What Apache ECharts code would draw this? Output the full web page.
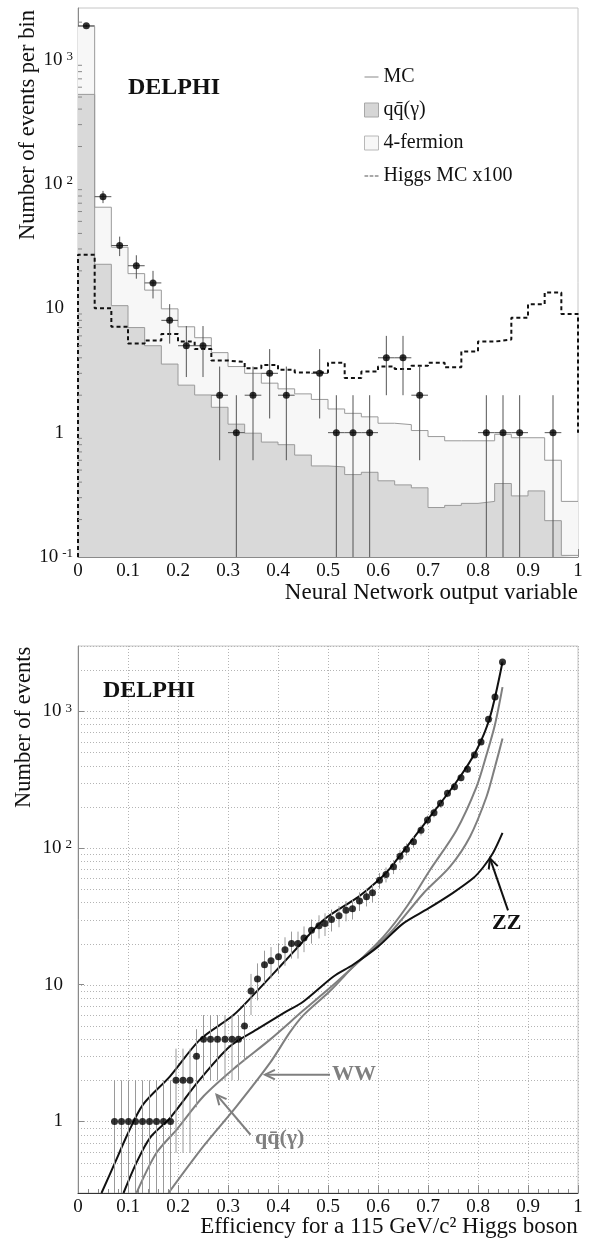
<!DOCTYPE html>
<html>
<head>
<meta charset="utf-8">
<script src="https://cdn.jsdelivr.net/npm/echarts@6/dist/echarts.min.js"></script>
<style>
  html, body { margin: 0; padding: 0; background: #ffffff; }
  #chart { width: 589px; height: 1243px; }
</style>
</head>
<body>
<div id="chart"></div>
<script>
// ================= TOP PANEL: NN output distribution (30 bins, width 1/30) =================
const nnBinCount = 30;
const nnTickLabels = ['0', '0.1', '0.2', '0.3', '0.4', '0.5', '0.6', '0.7', '0.8', '0.9', '1'];
// total MC (qq(gamma) + 4-fermion), events per bin
const mcTotal = [1850, 65, 31, 19, 14, 9.9, 7.1, 5.8, 4.4, 3.4, 3.0, 2.5, 2.25, 2.05, 1.85,
                 1.55, 1.43, 1.34, 1.19, 1.16, 1.04, 0.93, 0.86, 0.86, 0.86, 0.97, 0.91, 0.91, 0.60, 0.28];
// qq(gamma) MC component
const qqbarMC = [525, 22.6, 10.5, 7.0, 5.0, 3.56, 2.41, 2.01, 1.60, 1.17, 0.99, 0.84, 0.80, 0.66, 0.54,
                 0.53, 0.46, 0.48, 0.41, 0.38, 0.36, 0.25, 0.26, 0.27, 0.28, 0.39, 0.31, 0.34, 0.196, 0.103];
// Higgs MC x100
const higgsX100 = [27, 10, 7.1, 5.2, 5.5, 6.2, 5.4, 4.7, 3.8, 3.7, 3.3, 3.5, 3.2, 3.05, 3.05,
                   3.65, 2.75, 3.1, 3.4, 3.25, 3.45, 3.65, 3.35, 4.5, 5.4, 5.6, 8.4, 10.8, 13.4, 9.0];
const higgsRightEdgeEnd = 1;     // where the dashed outline stops on the right edge
// real data: counts and error bar half-lengths
const dataCounts = [1870, 79, 32, 22, 16, 8, 5, 5, 2, 1, 2, 3, 2, 0, 3,
                    1, 1, 1, 4, 4, 2, 0, 0, 0, 1, 1, 1, 0, 1, 0];
const dataErr = [43, 8.9, 5.7, 4.7, 4, 2.8, 2.2, 2.2, 1.4, 1, 1.4, 1.7, 1.4, 0, 1.7,
                 1, 1, 1, 2, 2, 1.4, 0, 0, 0, 1, 1, 1, 0, 1, 0];
const topYMin = 0.1, topYMax = 2600;
const topYTicks = [0.1, 1, 10, 100, 1000];

// ================= BOTTOM PANEL: events vs efficiency =================
const effData = [0.073, 0.087, 0.101, 0.115, 0.129, 0.143, 0.157, 0.171, 0.185,
                 0.196, 0.210, 0.224, 0.237,
                 0.251, 0.265, 0.279, 0.294, 0.308, 0.321, 0.333,
                 0.346, 0.359, 0.373, 0.386, 0.401, 0.414, 0.427, 0.440, 0.452, 0.467,
                 0.482, 0.494, 0.507, 0.522, 0.536, 0.549, 0.563, 0.577, 0.589, 0.603,
                 0.616, 0.631, 0.644, 0.657, 0.671, 0.686, 0.699, 0.712, 0.725, 0.739,
                 0.753, 0.766, 0.779, 0.793, 0.806, 0.821, 0.834, 0.849];
const evtData = [1, 1, 1, 1, 1, 1, 1, 1, 1,
                 2, 2, 2, 3,
                 4, 4, 4, 4, 4, 4, 5,
                 9, 11, 14, 15, 16, 18, 20, 20, 22, 25,
                 27, 28, 30, 32, 35, 36, 41, 44, 47, 58,
                 64, 73, 87, 98, 111, 135, 160, 181, 212, 251,
                 280, 326, 377, 478, 597, 874, 1271, 2290];
const evtErr = [1, 1, 1, 1, 1, 1, 1, 1, 1,
                1.41, 1.41, 1.41, 1.73,
                2, 2, 2, 2, 2, 2, 2.24,
                3, 3.32, 3.74, 3.87, 4, 4.24, 4.47, 4.47, 4.69, 5,
                5.2, 5.29, 5.48, 5.66, 5.92, 6, 6.4, 6.63, 6.86, 7.6,
                8, 8.54, 9.33, 9.9, 10.5, 11.6, 12.6, 13.5, 14.6, 15.8,
                16.7, 18.1, 19.4, 21.9, 24.4, 29.6, 35.7, 47.9];
// total MC
const mcEff = [0.047, 0.074, 0.100, 0.130, 0.184, 0.244, 0.311, 0.357, 0.404, 0.444, 0.491, 0.557, 0.580, 0.603, 0.624, 0.691, 0.757, 0.797, 0.824, 0.849];
const mcEvt = [0.3, 0.5, 0.82, 1.33, 2.14, 3.97, 6.0, 8.9, 13.6, 19.6, 29.8, 43, 50, 59, 71, 147, 305, 519, 908, 2290];
// ZZ
const zzEff = [0.091, 0.117, 0.144, 0.184, 0.241, 0.304, 0.357, 0.411, 0.451, 0.511, 0.55, 0.60, 0.65, 0.70, 0.75, 0.79, 0.81, 0.83, 0.849];
const zzEvt = [0.3, 0.5, 0.76, 1.06, 1.97, 3.55, 4.7, 6.2, 7.55, 11.5, 14, 19, 28, 36, 47, 60, 72, 92, 129];
// WW
const wwEff = [0.181, 0.251, 0.317, 0.384, 0.424, 0.451, 0.504, 0.55, 0.611, 0.657, 0.704, 0.757, 0.797, 0.817, 0.834, 0.849];
const wwEvt = [0.3, 0.66, 1.29, 2.68, 4.5, 6.0, 9.0, 13.5, 22.5, 37, 69, 135, 280, 480, 800, 1500];
// qq(gamma)
const qqEff = [0.117, 0.157, 0.197, 0.251, 0.317, 0.384, 0.451, 0.504, 0.55, 0.624, 0.691, 0.744, 0.784, 0.817, 0.834, 0.849];
const qqEvt = [0.3, 0.59, 0.87, 1.53, 2.53, 3.97, 6.5, 9.5, 13.5, 23.9, 46.7, 73, 121, 237, 392, 631];
const botYMin = 0.3, botYMax = 3000;
const botYTicks = [1, 10, 100, 1000];
// annotations: arrow [tailX, tailY, headX, headY], label and label anchor
const annotArrows = [[0.860, 35, 0.824, 84], [0.504, 2.2, 0.374, 2.2], [0.345, 0.80, 0.277, 1.57]];
const annotLabels = ['ZZ', 'WW', 'qq\u0304(\u03b3)'];
const annotLabelPos = [[0.828, 27.9], [0.508, 2.2], [0.354, 0.75]];
const annotColors = ['#111111', '#7f7f7f', '#7f7f7f'];

// ================= helpers =================
const F = 'Liberation Serif';
const LBL = '#111111';

function decadeSteps(lo, hi) {           // 1..9 x 10^k grid/tick values inside [lo, hi]
  const out = [];
  for (let e = Math.floor(Math.log10(lo)); e <= Math.ceil(Math.log10(hi)); e++) {
    for (let m = 1; m <= 9; m++) {
      const v = +(m * Math.pow(10, e)).toPrecision(6);
      if (v >= lo * 0.9999 && v <= hi * 1.0001) out.push(v);
    }
  }
  return out;
}
function stepLine(vals) {
  const pts = vals.map((v, i) => [i / nnBinCount, v]);
  pts.push([1, vals[vals.length - 1]]);
  return pts;
}
function powLabel(v) {
  const lg = Math.log10(v), e = Math.round(lg);
  if (Math.abs(lg - e) > 1e-6) return '';
  if (e === 0) return '{b|1}{sp| }';
  if (e === 1) return '{b|10}{sp| }';
  return '{b|10}{s|' + e + '}';
}
const yRich = {
  b: { fontFamily: F, fontSize: 19, color: LBL },
  s: { fontFamily: F, fontSize: 13, color: LBL, verticalAlign: 'top', padding: [0, 0, 0, 4] },
  sp: { fontFamily: F, fontSize: 13, width: 9 }
};
function errRender(halfW, yMin, color) {
  return function (params, api) {
    const x = api.value(0), n = api.value(1), e = api.value(2);
    const top = api.coord([x, n + e]);
    const bot = api.coord([x, Math.max(n - e, yMin)]);
    const children = [{ type: 'line', shape: { x1: top[0], y1: top[1], x2: bot[0], y2: bot[1] },
                        style: { stroke: color, lineWidth: 1 } }];
    if (halfW > 0) {
      const l = api.coord([x - halfW, n]), r = api.coord([x + halfW, n]);
      children.push({ type: 'line', shape: { x1: l[0], y1: l[1], x2: r[0], y2: r[1] },
                      style: { stroke: color, lineWidth: 1 } });
    }
    return { type: 'group', children };
  };
}

const higgsLine = [[0, topYMin]].concat(stepLine(higgsX100)).concat([[1, higgsRightEdgeEnd]]);
const topPts = [];
dataCounts.forEach((n, i) => { if (n > 0) topPts.push([(i + 0.5) / nnBinCount, n, dataErr[i]]); });
const botPts = effData.map((x, i) => [x, evtData[i], evtErr[i]]);
const pairs = (xs, ys) => xs.map((x, i) => [x, ys[i]]);
const topMinorTicks = decadeSteps(topYMin, topYMax).filter(v => topYTicks.indexOf(v) < 0);
const botGridLines = decadeSteps(botYMin, botYMax);

const xAxisCommon = {
  type: 'value', min: 0, max: 1, interval: 0.1,
  axisTick: { inside: true, length: 8, lineStyle: { color: '#8a8a8a' } },
  minorTick: { show: true, splitNumber: 5, length: 4, lineStyle: { color: '#8a8a8a' } },
  axisLabel: { fontFamily: F, fontSize: 19, color: LBL, margin: 5, showMinLabel: true, showMaxLabel: true,
               formatter: (v) => nnTickLabels[Math.round(v * 10)] }
};

const option = {
  animation: false,
  backgroundColor: '#ffffff',
  title: [
    { text: 'DELPHI', left: 128, top: 76, padding: 0,
      textStyle: { fontFamily: F, fontWeight: 'bold', fontSize: 24, color: '#111' } },
    { text: 'DELPHI', left: 103, top: 679, padding: 0,
      textStyle: { fontFamily: F, fontWeight: 'bold', fontSize: 24, color: '#111' } }
  ],
  legend: {
    orient: 'vertical', left: 364, top: 67, padding: 0, itemGap: 13,
    itemWidth: 14, itemHeight: 14, selectedMode: false,
    textStyle: { fontFamily: F, fontSize: 20, color: '#111', lineHeight: 20 },
    data: [
      { name: 'MC', icon: 'path://M0,0H16V1H0Z', itemStyle: { color: '#777', borderWidth: 0 } },
      { name: 'qq\u0304(\u03b3)', icon: 'rect', itemStyle: { color: '#d6d6d6', borderColor: '#a8a8a8', borderWidth: 1 } },
      { name: '4-fermion', icon: 'rect', itemStyle: { color: '#f7f7f7', borderColor: '#b8b8b8', borderWidth: 1 } },
      { name: 'Higgs MC x100', icon: 'path://M0,0H5V1.2H0ZM7,0H12V1.2H7ZM14,0H19V1.2H14Z', itemStyle: { color: '#555', borderWidth: 0 } }
    ]
  },
  grid: [
    { left: 78, top: 8, width: 500, height: 549, show: true, borderColor: '#c6c6c6', borderWidth: 1,
      containLabel: false, outerBoundsMode: 'none' },
    { left: 78, top: 646, width: 500, height: 547, show: true, borderColor: '#c6c6c6', borderWidth: 1,
      containLabel: false, outerBoundsMode: 'none' }
  ],
  xAxis: [
    Object.assign({}, xAxisCommon, {
      gridIndex: 0,
      axisLine: { lineStyle: { color: '#8a8a8a' } },
      splitLine: { show: false },
      name: 'Neural Network output variable', nameLocation: 'end', nameGap: 0,
      nameTextStyle: { fontFamily: F, fontSize: 23, color: LBL, align: 'right', verticalAlign: 'top', padding: [24, 0, 0, 0] }
    }),
    Object.assign({}, xAxisCommon, {
      gridIndex: 1,
      axisLine: { lineStyle: { color: '#333' } },
      splitLine: { show: true, lineStyle: { color: '#b4b4b4', type: [1, 2] } },
      name: 'Efficiency for a 115 GeV/c\u00b2 Higgs boson', nameLocation: 'middle', nameGap: 22,
      nameMoveOverlap: false, nameTruncate: { maxWidth: 2000 },
      nameTextStyle: { fontFamily: F, fontSize: 23, color: LBL, align: 'center', verticalAlign: 'top', padding: [0, 0, 0, 122] }
    })
  ],
  yAxis: [
    {
      type: 'log', logBase: 10, gridIndex: 0, min: topYMin, max: topYMax,
      axisLine: { show: true, lineStyle: { color: '#8a8a8a' } },
      axisTick: { show: true, inside: true, length: 8, customValues: topYTicks, lineStyle: { color: '#8a8a8a' } },
      axisLabel: { customValues: topYTicks, formatter: powLabel, rich: yRich, margin: 5, align: 'right' },
      splitLine: { show: false },
      name: 'Number of events per bin', nameLocation: 'end', nameRotate: 90, nameGap: -232,
      nameTextStyle: { fontFamily: F, fontSize: 22.5, color: LBL, align: 'left', verticalAlign: 'bottom', padding: [0, 0, 38, 0] }
    },
    {
      type: 'log', logBase: 10, gridIndex: 1, min: botYMin, max: botYMax,
      axisLine: { show: true, lineStyle: { color: '#8a8a8a' } },
      axisTick: { show: true, inside: true, length: 6, customValues: botYTicks, lineStyle: { color: '#8a8a8a' } },
      axisLabel: { customValues: botYTicks, formatter: powLabel, rich: yRich, margin: 6, align: 'right' },
      splitLine: { show: false },
      name: 'Number of events', nameLocation: 'end', nameRotate: 90, nameGap: -162,
      nameTextStyle: { fontFamily: F, fontSize: 22.5, color: LBL, align: 'left', verticalAlign: 'bottom', padding: [0, 0, 42, 0] }
    }
  ],
  series: [
    // ---------- top panel ----------
    { name: '4-fermion', type: 'line', xAxisIndex: 0, yAxisIndex: 0, step: 'end', data: stepLine(mcTotal),
      symbol: 'none', silent: true, z: 1, itemStyle: { color: '#f7f7f7' },
      lineStyle: { width: 0, opacity: 0 }, areaStyle: { color: '#f7f7f7', opacity: 1, origin: 'start' } },
    { name: 'qq\u0304(\u03b3)', type: 'line', xAxisIndex: 0, yAxisIndex: 0, step: 'end', data: stepLine(qqbarMC),
      symbol: 'none', silent: true, z: 2, itemStyle: { color: '#d6d6d6' },
      lineStyle: { color: '#9a9a9a', width: 1 }, areaStyle: { color: '#d9d9d9', opacity: 1, origin: 'start' } },
    { name: 'MC', type: 'line', xAxisIndex: 0, yAxisIndex: 0, step: 'end', data: stepLine(mcTotal),
      symbol: 'none', silent: true, z: 3, itemStyle: { color: '#9a9a9a' },
      lineStyle: { color: '#9a9a9a', width: 1 } },
    { name: 'Higgs MC x100', type: 'line', xAxisIndex: 0, yAxisIndex: 0, step: 'end', data: higgsLine,
      symbol: 'none', silent: true, z: 4, itemStyle: { color: '#111' },
      lineStyle: { color: '#111', width: 2, type: [4, 3] } },
    { name: 'Data errors', type: 'custom', xAxisIndex: 0, yAxisIndex: 0, silent: true, z: 5,
      renderItem: errRender(0.5 / nnBinCount, topYMin, '#555'), data: topPts },
    { name: 'Data', type: 'scatter', xAxisIndex: 0, yAxisIndex: 0, silent: true, z: 6,
      symbolSize: 7, itemStyle: { color: '#000' }, data: topPts },
    { name: 'y minor ticks', type: 'custom', xAxisIndex: 0, yAxisIndex: 0, silent: true, z: 7,
      data: topMinorTicks.map(v => [0, v]),
      renderItem: (params, api) => {
        const p = api.coord([0, api.value(1)]);
        return { type: 'line', shape: { x1: p[0], y1: p[1], x2: p[0] + 4, y2: p[1] }, style: { stroke: '#8a8a8a', lineWidth: 1 } };
      } },
    // ---------- bottom panel ----------
    { name: 'grid lines', type: 'custom', xAxisIndex: 1, yAxisIndex: 1, silent: true, z: 0,
      data: botGridLines.map(v => [0, v]),
      renderItem: (params, api) => {
        const v = api.value(1);
        const a = api.coord([0, v]), b = api.coord([1, v]);
        const y = Math.round(a[1]) + 0.5;
        return { type: 'line', shape: { x1: a[0], y1: y, x2: b[0], y2: y }, style: { stroke: '#b4b4b4', lineWidth: 1, lineDash: [1, 2] } };
      } },
    { name: 'ZZ', type: 'line', xAxisIndex: 1, yAxisIndex: 1, data: pairs(zzEff, zzEvt), symbol: 'none',
      smooth: 0.3, silent: true, z: 3, lineStyle: { color: '#111', width: 2 } },
    { name: 'WW', type: 'line', xAxisIndex: 1, yAxisIndex: 1, data: pairs(wwEff, wwEvt), symbol: 'none',
      smooth: 0.3, silent: true, z: 2, lineStyle: { color: '#7f7f7f', width: 2 } },
    { name: 'qq\u0304(\u03b3) background', type: 'line', xAxisIndex: 1, yAxisIndex: 1, data: pairs(qqEff, qqEvt), symbol: 'none',
      smooth: 0.3, silent: true, z: 2, lineStyle: { color: '#7f7f7f', width: 2 } },
    { name: 'Total MC', type: 'line', xAxisIndex: 1, yAxisIndex: 1, data: pairs(mcEff, mcEvt), symbol: 'none',
      smooth: 0.3, silent: true, z: 3, lineStyle: { color: '#111', width: 2 } },
    { name: 'Data errors (cumulative)', type: 'custom', xAxisIndex: 1, yAxisIndex: 1, silent: true, z: 4,
      renderItem: errRender(0, botYMin, '#9a9a9a'), data: botPts },
    { name: 'Data (cumulative)', type: 'scatter', xAxisIndex: 1, yAxisIndex: 1, silent: true, z: 5,
      symbolSize: 7, itemStyle: { color: '#000' }, data: botPts },
    { name: 'annotations', type: 'custom', xAxisIndex: 1, yAxisIndex: 1, silent: true, z: 6,
      data: annotArrows,
      renderItem: (params, api) => {
        const i = params.dataIndex, col = annotColors[i];
        const t = api.coord([api.value(0), api.value(1)]), h = api.coord([api.value(2), api.value(3)]);
        const ang = Math.atan2(t[1] - h[1], t[0] - h[0]);
        const L = 11, w = 0.45;
        const w1 = [h[0] + L * Math.cos(ang + w), h[1] + L * Math.sin(ang + w)];
        const w2 = [h[0] + L * Math.cos(ang - w), h[1] + L * Math.sin(ang - w)];
        const lp = api.coord(annotLabelPos[i]);
        return { type: 'group', children: [
          { type: 'line', shape: { x1: t[0], y1: t[1], x2: h[0], y2: h[1] }, style: { stroke: col, lineWidth: 2 } },
          { type: 'polyline', shape: { points: [w1, h, w2] }, style: { stroke: col, lineWidth: 2, fill: 'none' } },
          { type: 'text', style: { text: annotLabels[i], x: lp[0], y: lp[1], align: 'left', verticalAlign: 'middle',
                                   font: 'bold 22px "' + F + '"', fill: col } }
        ] };
      } }
  ]
};

const chart = echarts.init(document.getElementById('chart'), null, { renderer: 'canvas' });
chart.setOption(option);
</script>
</body>
</html>
